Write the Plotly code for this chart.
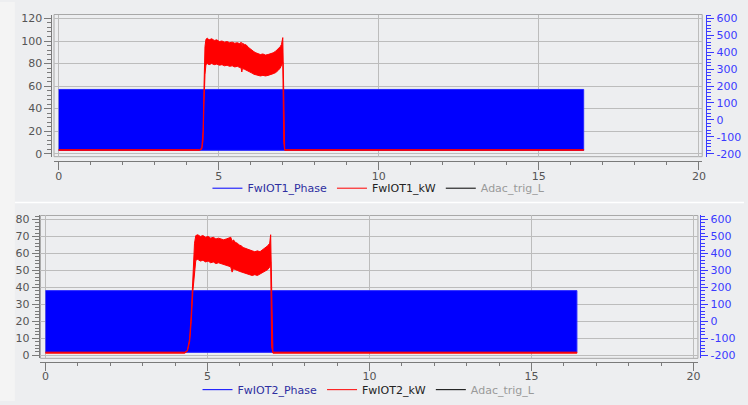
import plotly.graph_objects as go

W, H = 748, 405

# ---------------- data ----------------
phase_x = [0.0, 16.4]
phase1_hi = [180, 180]
phase1_lo = [-180, -180]
phase2_hi = [181, 181]
phase2_lo = [-182, -182]

kw1_x = [0.0, 4.40, 4.47, 4.51, 4.54, 4.57, 4.60,
         4.64, 4.70, 4.78, 4.86, 4.94, 5.02, 5.10, 5.18, 5.26, 5.34, 5.42, 5.50,
         5.58, 5.66, 5.70, 5.72, 5.74, 5.80, 5.86, 5.92, 5.98, 6.04, 6.10, 6.16,
         6.22, 6.30, 6.38, 6.46, 6.54, 6.62, 6.70, 6.78, 6.86, 6.92, 6.96, 7.00,
         7.03, 7.06, 16.4]
kw1_hi = [3.6, 3.6, 5.0, 20.0, 60.0, 95.0, 101.5,
          102.5, 101.0, 102.0, 100.5, 101.0, 99.5, 100.0, 99.0, 99.5, 98.5, 99.0, 98.0,
          98.5, 97.5, 99.0, 93.0, 98.0, 97.0, 96.5, 94.5, 93.0, 92.0, 90.5, 89.5,
          89.0, 88.0, 88.5, 87.5, 88.0, 88.5, 89.5, 91.0, 93.0, 95.0, 97.0, 103.0,
          55.0, 3.6, 3.6]
kw1_lo = [3.0, 3.0, 4.0, 12.0, 45.0, 70.0, 79.0,
          80.0, 79.0, 80.0, 79.0, 79.5, 78.5, 79.0, 78.0, 78.5, 77.5, 78.0, 77.0,
          77.5, 76.5, 76.0, 72.5, 75.5, 75.0, 74.5, 73.5, 72.5, 71.5, 70.5, 70.0,
          69.5, 69.0, 69.5, 69.0, 69.5, 70.0, 71.0, 72.0, 74.0, 76.0, 77.5, 81.0,
          10.0, 3.0, 3.0]

kw2_x = [0.0, 4.30, 4.38, 4.45, 4.50, 4.55, 4.60,
         4.64, 4.70, 4.78, 4.86, 4.94, 5.02, 5.10, 5.18, 5.26, 5.34, 5.42, 5.50,
         5.58, 5.66, 5.72, 5.76, 5.80, 5.86, 5.92, 5.98, 6.04, 6.10, 6.16, 6.22,
         6.30, 6.38, 6.46, 6.54, 6.62, 6.70, 6.78, 6.86, 6.92, 6.95,
         6.98, 7.02, 16.4]
kw2_hi = [1.9, 1.9, 3.0, 10.0, 25.0, 42.0, 66.0,
          70.5, 71.0, 70.0, 70.5, 69.5, 70.0, 69.0, 69.5, 68.5, 69.0, 68.5, 68.0,
          68.5, 69.0, 69.5, 67.0, 68.0, 66.5, 66.0, 65.0, 64.5, 63.5, 63.0, 62.5,
          62.0, 61.5, 61.0, 61.5, 61.0, 62.0, 63.0, 64.5, 66.0, 71.0,
          40.0, 1.9, 1.9]
kw2_lo = [1.3, 1.3, 2.5, 8.0, 20.0, 38.0, 48.0,
          56.0, 56.5, 55.5, 56.0, 55.0, 55.5, 54.5, 55.0, 54.0, 54.5, 54.0, 53.5,
          53.0, 52.5, 52.0, 49.0, 51.0, 50.5, 50.0, 49.5, 49.0, 48.5, 48.0, 48.0,
          47.5, 47.0, 47.5, 47.0, 47.5, 48.5, 49.5, 50.5, 52.0, 55.0,
          5.0, 1.3, 1.3]

x_dtick = 5
left1_dtick = 20
left2_dtick = 10
right_ticks = [-200, -100, 0, 100, 200, 300, 400, 500, 600]
right_ticktext = ['-200', '-100', '0', '100', '200', '300', '400', '500', '600']

names1 = ['FwIOT1_Phase', 'FwIOT1_kW', 'Adac_trig_L']
names2 = ['FwIOT2_Phase', 'FwIOT2_kW', 'Adac_trig_L']

# ---------------- style ----------------
FONT = 'DejaVu Sans'
BG = '#edeef0'
GRID = '#bcbcbc'
FRAME = '#a8a8a8'
AXIS = '#7a7a7a'
TICKTXT = '#555555'
BLUEAX = '#3a3aff'
name_colors = ['#2e2ea0', '#222222', '#9a9a9a']
sym_colors = ['#0000ff', '#ff0000', '#000000']


def px_x(p):
    return p / W


def px_y(p):
    return 1 - p / H


fig = go.Figure()


def add_panel(xa, yr, yl, ph_hi, ph_lo, kx, khi, klo, names, legend):
    fig.add_trace(go.Scatter(
        x=phase_x + phase_x[::-1], y=ph_hi + ph_lo[::-1],
        fill='toself', fillcolor='#0000ff', mode='lines',
        line=dict(color='#2525ff', width=1), showlegend=False,
        xaxis=xa, yaxis=yr, hoverinfo='skip'))
    fig.add_trace(go.Scatter(
        x=kx + kx[::-1], y=khi + klo[::-1],
        fill='toself', fillcolor='#ff0000', mode='lines',
        line=dict(color='#ff0000', width=1), showlegend=False,
        xaxis=xa, yaxis=yl, hoverinfo='skip'))
    for n, tc, sc in zip(names, name_colors, sym_colors):
        fig.add_trace(go.Scatter(
            x=[None], y=[None], mode='lines',
            line=dict(color=sc, width=1),
            name='<span style="color:%s">%s</span>' % (tc, n),
            xaxis=xa, yaxis=yl, legend=legend))


add_panel('x', 'y', 'y2', phase1_hi, phase1_lo, kw1_x, kw1_hi, kw1_lo, names1, 'legend')
add_panel('x2', 'y3', 'y4', phase2_hi, phase2_lo, kw2_x, kw2_hi, kw2_lo, names2, 'legend2')


def xaxis_def(dom, rng, pos):
    return dict(domain=dom, range=rng, anchor='free', position=pos,
                tickmode='linear', tick0=0, dtick=x_dtick,
                ticks='outside', ticklen=8, tickcolor=AXIS, tickwidth=1,
                ticklabelstandoff=-4,
                showline=True, linecolor=AXIS, linewidth=1,
                showgrid=True, gridcolor=GRID, gridwidth=1, zeroline=False,
                minor=dict(tickmode='linear', tick0=0, dtick=1, ticklen=3,
                           tickcolor=AXIS, showgrid=False),
                tickfont=dict(family=FONT, size=11, color=TICKTXT),
                fixedrange=True)


def right_def(dom, rng, pos):
    return dict(domain=dom, range=rng, anchor='free', position=pos, side='right',
                tickmode='array', tickvals=right_ticks, ticktext=right_ticktext,
                ticks='outside', ticklen=7, tickcolor=BLUEAX, tickwidth=1,
                showline=True, linecolor=BLUEAX, linewidth=1,
                showgrid=False, zeroline=False,
                minor=dict(tickmode='linear', tick0=0, dtick=20, ticklen=4,
                           tickcolor=BLUEAX, showgrid=False),
                tickfont=dict(family=FONT, size=11, color=BLUEAX),
                fixedrange=True)


def left_def(base, rng, pos, dtick, mdt):
    return dict(overlaying=base, range=rng, anchor='free', position=pos, side='left',
                tickmode='linear', tick0=0, dtick=dtick,
                ticks='outside', ticklen=7, tickcolor=AXIS, tickwidth=1,
                showline=True, linecolor=AXIS, linewidth=1,
                showgrid=True, gridcolor=GRID, gridwidth=1, zeroline=False,
                minor=dict(tickmode='linear', tick0=0, dtick=mdt, ticklen=4,
                           tickcolor=AXIS, showgrid=False),
                tickfont=dict(family=FONT, size=11, color=TICKTXT),
                fixedrange=True)


y1dom = [px_y(157), px_y(12.7)]
y2dom = [px_y(361.7), px_y(216.7)]

fig.update_layout(
    width=W, height=H, autosize=False,
    margin=dict(l=0, r=0, t=0, b=0),
    paper_bgcolor=BG, plot_bgcolor=BG,
    font=dict(family=FONT, size=11, color=TICKTXT),
    hovermode=False,
    xaxis=xaxis_def([px_x(54.3), px_x(706)], [-0.146, 20.103], px_y(161.7)),
    yaxis=right_def(y1dom, [-217.5, 623.3], px_x(710)),
    yaxis2=left_def('y', [-2.62, 123.5], px_x(51.7), left1_dtick, 4),
    xaxis2=xaxis_def([px_x(40.7), px_x(701.7)], [-0.153, 20.135], px_y(365.7)),
    yaxis3=right_def(y2dom, [-217.4, 623.2], px_x(704)),
    yaxis4=left_def('y3', [-1.74, 82.32], px_x(39), left2_dtick, 2),
    legend=dict(orientation='h', x=px_x(381), xanchor='center',
                y=px_y(189), yanchor='middle', itemwidth=30,
                bgcolor='rgba(0,0,0,0)', font=dict(family=FONT, size=11)),
    legend2=dict(orientation='h', x=px_x(371), xanchor='center',
                 y=px_y(393.5), yanchor='middle', itemwidth=30,
                 bgcolor='rgba(0,0,0,0)', font=dict(family=FONT, size=11)),
    showlegend=True,
    shapes=[
        dict(type='rect', xref='paper', yref='paper', x0=0, x1=px_x(15), y0=0, y1=1,
             fillcolor='#f4f4f4', line=dict(width=0), layer='below'),
        dict(type='line', xref='paper', yref='paper', x0=px_x(15), x1=1,
             y0=px_y(203.5), y1=px_y(203.5), line=dict(color='#ffffff', width=1.5),
             layer='below'),
        dict(type='rect', xref='x domain', yref='y domain', x0=0, x1=1, y0=0, y1=1,
             line=dict(color=FRAME, width=1), layer='below'),
        dict(type='rect', xref='x2 domain', yref='y3 domain', x0=0, x1=1, y0=0, y1=1,
             line=dict(color=FRAME, width=1), layer='below'),
    ],
)

POST = (
    "document.documentElement.style.margin='0';"
    "document.body.style.margin='0';document.body.style.padding='0';"
    "document.body.style.overflow='hidden';"
    "var gd=document.getElementById('{plot_id}');"
    "var vw=window.innerWidth, vh=window.innerHeight;"
    "if(vw>100 && vh>100 && (vw!==%d || vh!==%d)){"
    "gd.style.width=vw+'px';gd.style.height=vh+'px';"
    "Plotly.relayout(gd,{width:vw,height:vh});}" % (W, H)
)

fig.write_html("out.html",
               config={'displayModeBar': False},
               post_script=POST)
